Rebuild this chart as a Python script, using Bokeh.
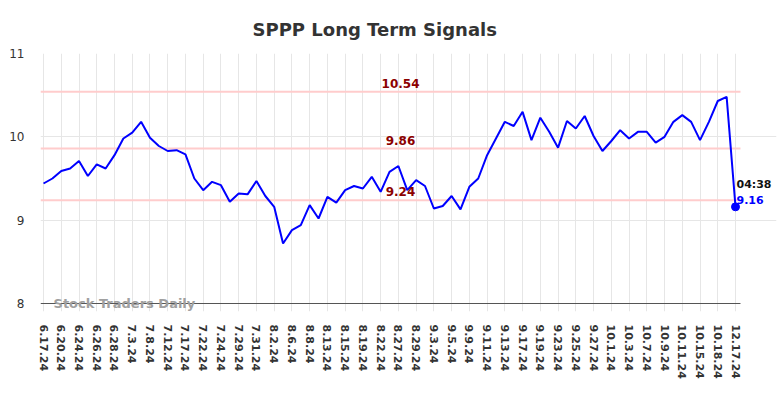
from bokeh.plotting import figure
from bokeh.models import FixedTicker, Label
from bokeh.embed import file_html
from bokeh.resources import INLINE

tick_labels = ["6.17.24", "6.20.24", "6.24.24", "6.26.24", "6.28.24", "7.3.24", "7.8.24",
               "7.12.24", "7.17.24", "7.22.24", "7.24.24", "7.29.24", "7.31.24", "8.2.24",
               "8.6.24", "8.8.24", "8.13.24", "8.15.24", "8.19.24", "8.22.24", "8.27.24",
               "8.29.24", "9.3.24", "9.5.24", "9.9.24", "9.11.24", "9.13.24", "9.17.24",
               "9.19.24", "9.23.24", "9.25.24", "9.27.24", "10.1.24", "10.3.24", "10.7.24",
               "10.9.24", "10.11.24", "10.15.24", "10.18.24", "12.17.24"]

prices = [9.44, 9.50, 9.59, 9.62, 9.71, 9.53, 9.67, 9.62, 9.78, 9.98,
          10.05, 10.18, 9.99, 9.89, 9.83, 9.84, 9.79, 9.50, 9.36, 9.46,
          9.42, 9.22, 9.32, 9.31, 9.47, 9.29, 9.16, 8.72, 8.88, 8.94,
          9.18, 9.02, 9.28, 9.21, 9.36, 9.41, 9.38, 9.52, 9.34, 9.58,
          9.65, 9.36, 9.48, 9.41, 9.14, 9.17, 9.29, 9.13, 9.40, 9.50,
          9.78, 9.98, 10.18, 10.13, 10.30, 9.96, 10.23, 10.06, 9.87, 10.19,
          10.10, 10.25, 10.01, 9.83, 9.95, 10.08, 9.98, 10.06, 10.06, 9.93,
          10.00, 10.18, 10.26, 10.18, 9.96, 10.18, 10.43, 10.48, 9.16]

levels = [10.54, 9.86, 9.24]
level_texts = ["10.54", "9.86", "9.24"]
y_ticks = [8, 9, 10, 11]
last_time = "04:38"
last_text = "9.16"
watermark = "Stock Traders Daily"
title = "SPPP Long Term Signals"

n = len(prices)
xs = list(range(n))
tick_pos = list(range(0, n, 2))

FONT = "DejaVu Sans"

# visible chart area (in data units); the frame is a little larger so that
# the texts at the right end and the watermark are not clipped
x_lo, x_hi = -0.34, n - 1 + 0.56
y_lo, y_hi = y_ticks[0], y_ticks[-1]

p = figure(width=784, height=398, output_backend="svg", toolbar_location=None,
           x_range=(x_lo, n - 1 + 4.62), y_range=(y_lo - 0.096, y_hi),
           min_border_left=40, min_border_right=8, min_border_top=53, min_border_bottom=87,
           title=title)
p.outline_line_color = None
p.background_fill_color = "white"
p.border_fill_color = "white"

p.title.align = "left"
p.title.offset = 212
p.title.standoff = 28
p.title.text_font = FONT
p.title.text_font_size = "18px"
p.title.text_font_style = "bold"
p.title.text_color = "#333333"

# axes
p.xaxis.ticker = FixedTicker(ticks=tick_pos)
p.xaxis.major_label_overrides = {pos: lab for pos, lab in zip(tick_pos, tick_labels)}
p.xaxis.major_label_orientation = "vertical"
p.xaxis.major_label_text_font = FONT
p.xaxis.major_label_text_font_size = "11px"
p.xaxis.major_label_text_font_style = "bold"
p.xaxis.major_label_text_color = "#333333"
p.xaxis.major_tick_line_color = None
p.xaxis.minor_tick_line_color = None
p.xaxis.major_tick_out = 0
p.xaxis.major_tick_in = 0
p.xaxis.major_label_standoff = 13
p.xaxis.axis_line_color = None

p.yaxis.ticker = FixedTicker(ticks=y_ticks)
p.yaxis.major_label_text_font = FONT
p.yaxis.major_label_text_font_size = "12px"
p.yaxis.major_label_text_color = "#333333"
p.yaxis.axis_line_color = None
p.yaxis.major_tick_line_color = None
p.yaxis.minor_tick_line_color = None
p.yaxis.major_tick_out = 0
p.yaxis.major_tick_in = 0
p.yaxis.major_label_standoff = 16

p.xgrid.ticker = FixedTicker(ticks=tick_pos)
p.xgrid.grid_line_color = "#e6e6e6"
p.xgrid.bounds = (y_lo, y_hi)
p.ygrid.ticker = FixedTicker(ticks=y_ticks[1:])
p.ygrid.grid_line_color = "#e6e6e6"
p.ygrid.bounds = (x_lo, x_hi)

# bottom axis line
p.segment(x0=[x_lo], x1=[x_hi], y0=[y_lo], y1=[y_lo], line_color="#555555", line_width=1)

# level lines
p.segment(x0=[x_lo] * len(levels), x1=[x_hi] * len(levels), y0=levels, y1=levels,
          line_color="#ffcccc", line_width=2)
for lv, lt in zip(levels, level_texts):
    p.add_layout(Label(x=(n - 1) / 2, y=lv, text=lt, text_align="center",
                       text_baseline="bottom", y_offset=4, x_offset=11,
                       text_font=FONT, text_font_size="12px", text_font_style="bold",
                       text_color="#8b0000"))

# price line
p.line(xs, prices, line_color="#0000ff", line_width=2)
p.scatter([xs[-1]], [prices[-1]], size=8, color="#0000ff")

p.add_layout(Label(x=xs[-1], y=prices[-1], text=last_time, text_align="left",
                   text_baseline="bottom", x_offset=1, y_offset=16,
                   text_font=FONT, text_font_size="11px", text_font_style="bold",
                   text_color="#111111"))
p.add_layout(Label(x=xs[-1], y=prices[-1], text=last_text, text_align="left",
                   text_baseline="bottom", x_offset=1, y_offset=3,
                   text_font=FONT, text_font_size="11px", text_font_style="bold",
                   text_color="#0000ff"))

p.add_layout(Label(x=1.13, y=y_lo, text=watermark, text_align="left",
                   text_baseline="middle", y_offset=0,
                   text_font=FONT, text_font_size="13px", text_font_style="bold",
                   text_color="#a0a0a0"))

open("out.html", "w").write(file_html(p, INLINE))
